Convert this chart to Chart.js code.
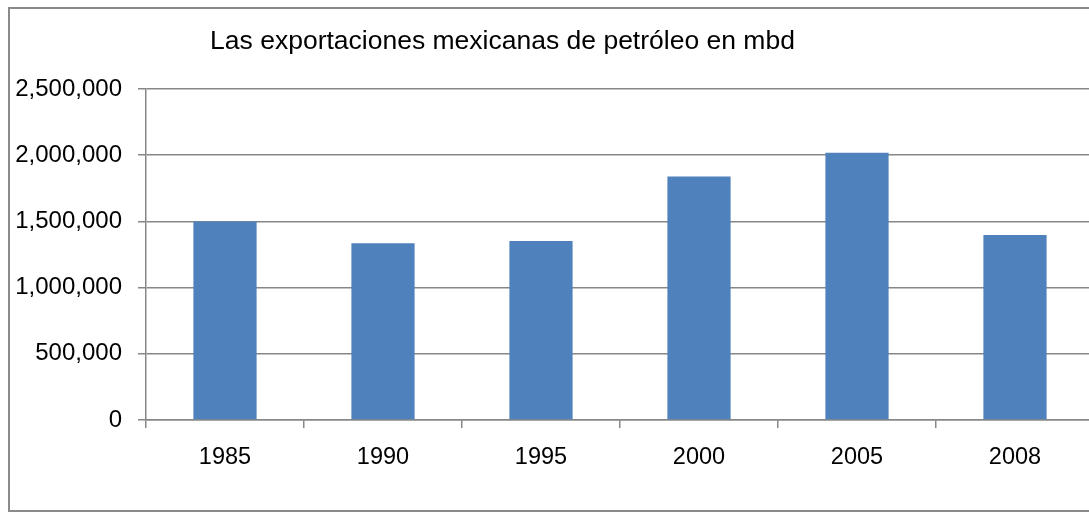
<!DOCTYPE html>
<html lang="es">
<head>
  <meta charset="UTF-8">
  <title>Exportaciones de petróleo</title>
  <script src="https://cdn.jsdelivr.net/npm/chart.js"></script>
  <style>
    html, body { margin:0; padding:0; background:#fff; overflow:hidden; }
    #wrap  { position:relative; width:1089px; height:516px; overflow:hidden; }
    #marco { position:absolute; left:8px; top:7px; width:1200px; height:505px;
             border:2px solid #8a8a8a; box-sizing:border-box; }
    #graf  { position:absolute; left:0; top:0; }
  </style>
</head>
<body>
  <div id="wrap">
    <div id="marco"></div>
    <canvas id="graf" width="1100" height="516"></canvas>
  </div>

  <script>
    /* ---------- Datos ---------- */
    const anios       = ['1985', '1990', '1995', '2000', '2005', '2008'];
    const exportacion = [1500000, 1335000, 1352000, 1840000, 2019000, 1397000];
    const ejeY        = [0, 500000, 1000000, 1500000, 2000000, 2500000];
    const titulo      = 'Las exportaciones mexicanas de petróleo en mbd';

    const gris   = '#878787';
    const fuente = '"Liberation Sans", Arial, sans-serif';

    /* título colocado a mano, como en la hoja original */
    const tituloPlugin = {
      id: 'tituloFijo',
      afterDraw(chart) {
        const ctx = chart.ctx;
        ctx.save();
        ctx.font = `26.5px ${fuente}`;
        ctx.fillStyle = '#000';
        ctx.textAlign = 'center';
        ctx.textBaseline = 'alphabetic';
        ctx.fillText(titulo, 502.5, 49);
        ctx.restore();
      }
    };

    new Chart(document.getElementById('graf'), {
      type: 'bar',
      data: {
        labels: anios,
        datasets: [{
          label: 'mbd',
          data: exportacion,
          backgroundColor: '#4F81BD',
          borderWidth: 0,
          categoryPercentage: 1,
          barPercentage: 0.4
        }]
      },
      options: {
        responsive: false,
        animation: false,
        layout: { padding: { left: 0, top: 89, right: 6, bottom: 46 } },
        plugins: { legend: { display: false }, tooltip: { enabled: false } },
        scales: {
          x: {
            offset: true,
            grid: { offset: true, drawOnChartArea: false, drawTicks: true,
                    tickLength: 8, color: gris, lineWidth: 1.5 },
            border: { display: true, color: gris, width: 1.5 },
            ticks: { color: '#000', font: { family: fuente, size: 23.5 }, padding: 15,
                     maxRotation: 0 },
            afterFit: s => { s.height = 50; }
          },
          y: {
            min: 0, max: 2500000,
            afterBuildTicks: s => { s.ticks = ejeY.map(v => ({ value: v })); },
            grid: { color: gris, lineWidth: 1.5, drawTicks: true, tickLength: 8 },
            border: { display: true, color: gris, width: 1.5 },
            ticks: { color: '#000', font: { family: fuente, size: 24 }, padding: 16,
                     callback: v => v.toLocaleString('en-US') },
            afterFit: s => { s.width = 146; }
          }
        }
      },
      plugins: [tituloPlugin]
    });
  </script>
</body>
</html>
